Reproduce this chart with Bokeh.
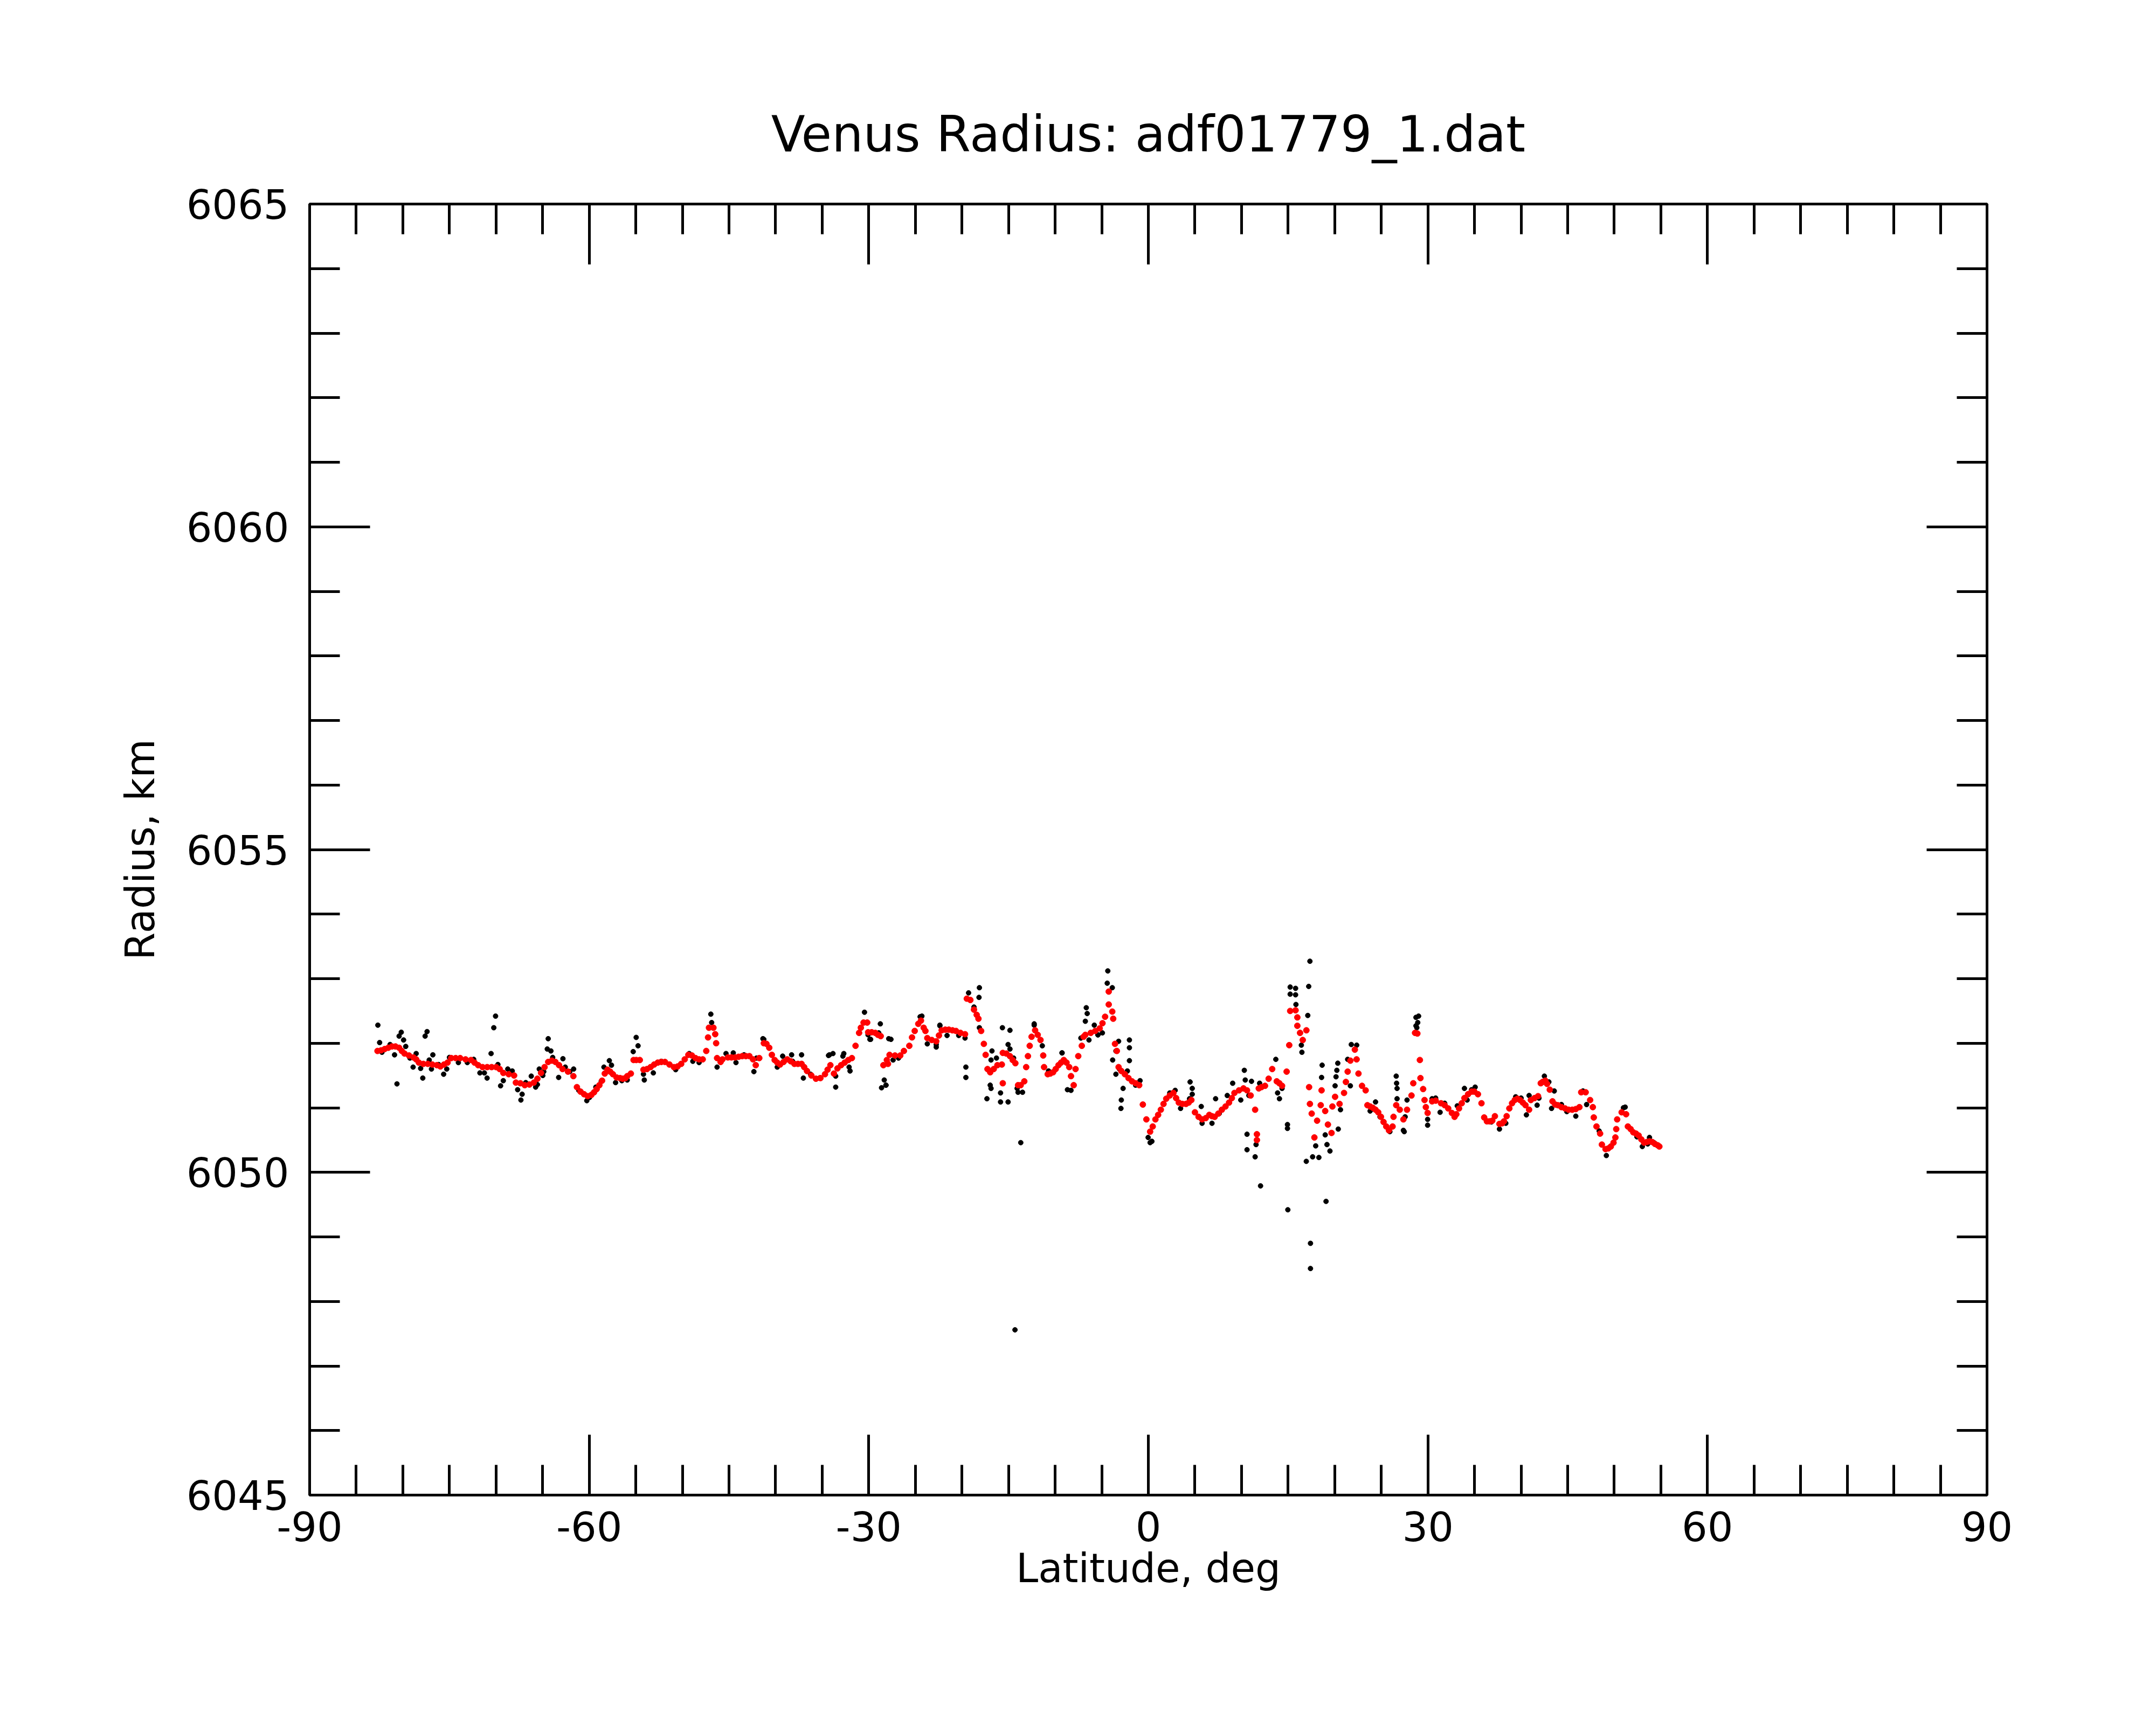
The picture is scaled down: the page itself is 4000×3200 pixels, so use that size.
from bokeh.plotting import figure
from bokeh.models import LinearAxis, FixedTicker, Range1d, PrintfTickFormatter
from bokeh.embed import file_html
from bokeh.resources import INLINE

# ---------------- data ----------------
# smoothed radius (red), first pass of readings
red_lat = [
    -82.72, -81.95, -81.17, -80.40, -79.82, -78.86, -78.28, -77.32, -76.35, -75.58,
    -74.81, -73.85, -72.69, -71.92, -70.95, -69.99, -69.22, -68.06, -67.87, -66.91,
    -65.94, -65.17, -64.40, -63.63, -62.86, -61.70, -61.32, -60.55, -59.77, -59.20,
    -58.62, -58.04, -57.46, -56.69, -56.11,
    -55.53, -55.24, -54.57, -54.18, -53.41, -52.64, -51.87, -50.91, -50.13, -49.36,
    -48.59, -47.82, -47.44, -47.25, -47.15, -46.67, -46.48, -46.38, -46.28, -45.90,
    -45.12, -44.35, -43.58, -42.81, -42.13, -41.75, -41.26, -40.68, -40.10, -39.52,
    -38.75, -37.98, -37.21, -36.63, -35.67, -34.70, -34.12, -33.74, -32.97, -32.20,
    -31.81, -31.42, -31.04, -30.56, -30.17, -30.07, -29.30, -28.72, -28.43, -27.94,
    -27.77, -26.62, -25.65, -25.07, -24.40, -23.92, -23.72, -22.76, -22.18, -21.41,
    -20.64, -19.67, -19.48, -19.10, -18.71, -18.23, -17.94, -17.65, -17.46, -17.26,
    -16.97, -16.20, -15.72, -15.62, -15.62, -14.85, -14.27, -13.98, -13.31, -13.11,
    -12.92, -12.53, -12.15, -11.57, -11.28, -11.19, -10.80, -10.22, -9.64, -9.07,
    -8.49, -8.30, -8.01, -7.81, -7.52, -7.14, -6.95, -6.18, -5.22, -4.64,
    -4.25, -4.25, -3.87, -3.77, -3.58, -3.38, -3.19, -2.52, -1.75, -0.98,
    -0.59, -0.21, 0.19,
    0.76, 1.34, 1.92, 2.69, 3.27, 4.04, 4.62, 5.00, 5.77, 6.54,
    7.12, 7.89, 8.66, 9.24, 10.21, 10.98, 11.46, 11.65, 11.65, 11.85,
    12.52, 13.29, 13.78, 14.35, 14.84, 15.12, 15.22, 15.80, 15.99, 15.99,
    16.28, 16.57, 16.96, 17.25, 17.34, 17.53, 17.82, 18.11, 18.50, 18.59,
    18.98, 19.27, 19.66, 19.75, 20.04, 20.52, 21.00, 21.20, 21.68, 22.16,
    22.35, 22.55, 22.93, 23.32, 23.51, 24.09, 24.67, 25.24, 25.82, 26.21,
    26.31, 26.60, 26.98, 27.37, 27.76, 28.24, 28.43, 28.62,
    28.87, 29.14, 29.20, 29.49, 29.64, 29.78, 29.97, 30.45, 31.41, 32.18,
    32.86, 33.34, 33.92, 34.69, 35.37, 35.75, 36.04, 36.62, 37.19, 37.68,
    38.16, 38.74, 39.32, 39.89, 40.47, 40.86, 41.05, 41.82, 42.11, 42.60,
    43.08, 43.37, 43.95, 44.72, 45.49, 46.26, 46.45, 46.93, 47.41, 47.70,
    47.80, 48.09, 48.48, 48.67, 49.06, 49.63, 50.12, 50.21, 50.31, 50.79,
    51.27, 51.46, 52.04, 52.62, 53.20, 53.78, 54.36, 54.84,
]
red_rad = [
    6051.88, 6051.91, 6051.95, 6051.93, 6051.84, 6051.78, 6051.70, 6051.68, 6051.66, 6051.67,
    6051.77, 6051.77, 6051.74, 6051.66, 6051.63, 6051.63, 6051.54, 6051.50, 6051.39, 6051.35,
    6051.39, 6051.54, 6051.71, 6051.71, 6051.60, 6051.49, 6051.32, 6051.21, 6051.20, 6051.29,
    6051.42, 6051.59, 6051.52, 6051.46, 6051.46,
    6051.53, 6051.74, 6051.74, 6051.59, 6051.63, 6051.70, 6051.71, 6051.63, 6051.68, 6051.82,
    6051.77, 6051.75, 6051.88, 6052.09, 6052.24, 6052.24, 6052.14, 6052.00, 6051.77, 6051.71,
    6051.78, 6051.78, 6051.80, 6051.80, 6051.66, 6051.77, 6052.00, 6051.93, 6051.74, 6051.67,
    6051.75, 6051.68, 6051.68, 6051.57, 6051.45, 6051.52, 6051.66, 6051.53, 6051.66, 6051.74,
    6051.77, 6051.96, 6052.16, 6052.32, 6052.32, 6052.17, 6052.16, 6052.11, 6051.66, 6051.68,
    6051.82, 6051.81, 6051.96, 6052.19, 6052.35, 6052.19, 6052.08, 6052.03, 6052.20, 6052.21,
    6052.19, 6052.14, 6052.69, 6052.67, 6052.52, 6052.38, 6052.19, 6051.99, 6051.82, 6051.60,
    6051.55, 6051.66, 6051.67, 6051.38, 6051.85, 6051.80, 6051.69, 6051.35, 6051.41, 6051.63,
    6051.80, 6052.10, 6052.20, 6052.05, 6051.81, 6051.63, 6051.52, 6051.55, 6051.66, 6051.74,
    6051.63, 6051.49, 6051.35, 6051.60, 6051.80, 6051.96, 6052.10, 6052.16, 6052.23, 6052.41,
    6052.60, 6052.80, 6052.49, 6052.38, 6051.99, 6051.88, 6051.63, 6051.52, 6051.41, 6051.35,
    6051.05, 6050.82, 6050.63,
    6050.82, 6050.97, 6051.14, 6051.23, 6051.08, 6051.06, 6051.12, 6050.93, 6050.82, 6050.89,
    6050.86, 6050.97, 6051.08, 6051.23, 6051.30, 6051.19, 6050.97, 6050.59, 6050.50, 6051.30,
    6051.34, 6051.60, 6051.41, 6051.34, 6051.56, 6051.97, 6052.50, 6052.51, 6052.40, 6052.27,
    6052.16, 6052.05, 6052.20, 6051.32, 6051.06, 6050.91, 6050.54, 6050.80, 6051.04, 6051.27,
    6050.95, 6050.74, 6050.61, 6051.02, 6051.17, 6051.06, 6051.23, 6051.40, 6051.73, 6051.90,
    6051.75, 6051.53, 6051.34, 6051.27, 6051.04, 6051.00, 6050.93, 6050.78, 6050.65, 6050.71,
    6050.86, 6051.04, 6050.97, 6050.82, 6050.97, 6051.19, 6051.38, 6052.16,
    6052.15, 6051.74, 6051.46, 6051.29, 6051.12, 6051.01, 6050.92, 6051.10, 6051.07, 6050.99,
    6050.86, 6050.99, 6051.15, 6051.25, 6051.21, 6051.07, 6050.85, 6050.79, 6050.87, 6050.75,
    6050.79, 6050.99, 6051.12, 6051.12, 6051.04, 6050.97, 6051.12, 6051.18, 6051.38, 6051.42,
    6051.28, 6051.10, 6051.04, 6050.99, 6050.97, 6051.01, 6051.24, 6051.24, 6051.12, 6051.01,
    6050.85, 6050.71, 6050.60, 6050.43, 6050.36, 6050.40, 6050.54, 6050.67, 6050.82, 6050.93,
    6050.90, 6050.71, 6050.62, 6050.57, 6050.46, 6050.48, 6050.44, 6050.40,
]
# smoothed radius (red), second pass of readings between the first ones
red_lat_b = [
    -82.33, -81.56, -80.79, -80.11, -79.34, -78.57, -77.80, -76.84, -75.97, -75.20,
    -74.33, -73.27, -72.31, -71.44, -70.47, -69.61, -68.64, -67.39, -66.42, -65.56,
    -64.79, -64.01, -63.24, -62.28, -60.93, -60.16, -59.48, -58.91, -58.33, -57.75,
    -57.07, -56.40,
    -55.92, -54.95, -53.80, -53.03, -52.26, -51.39, -50.52, -49.75, -48.98, -48.21,
    -45.70, -44.74, -43.97, -43.19, -42.42, -40.98, -40.40, -39.82, -39.14, -38.37,
    -37.60, -36.93, -36.16, -35.19, -34.42, -33.36, -32.59, -30.85, -29.69, -29.02,
    -28.06, -27.19, -26.23, -25.36, -24.69, -24.11, -23.24, -22.47, -21.79, -21.02,
    -20.16, -18.42, -16.59, -15.24, -14.56, -13.70, -12.73, -11.87, -10.52, -9.94,
    -9.36, -8.78, -6.76, -5.70, -4.92, -2.90, -2.13, -1.36,
    0.47, 1.05, 1.63, 2.30, 2.98, 3.65, 4.33, 5.39, 6.16, 6.83,
    7.51, 8.28, 8.96, 9.73, 10.59, 12.14, 12.91, 14.06, 21.39, 23.80,
    24.38, 24.96, 25.53,
    30.84, 31.80, 32.57, 33.05, 33.63, 34.31, 34.98, 36.33, 36.91, 37.97,
    38.45, 39.03, 39.61, 40.19, 41.44, 42.31, 42.79, 43.66, 44.33, 45.10,
    45.87, 49.35, 49.92, 51.76, 52.33, 52.91, 53.49, 54.07, 54.65,
]
red_rad_b = [
    6051.89, 6051.93, 6051.95, 6051.88, 6051.81, 6051.75, 6051.68, 6051.67, 6051.64, 6051.70,
    6051.77, 6051.75, 6051.70, 6051.63, 6051.63, 6051.60, 6051.52, 6051.38, 6051.36, 6051.45,
    6051.63, 6051.73, 6051.66, 6051.56, 6051.25, 6051.18, 6051.24, 6051.35, 6051.53, 6051.56,
    6051.47, 6051.45,
    6051.49, 6051.74, 6051.60, 6051.67, 6051.71, 6051.67, 6051.64, 6051.75, 6051.81, 6051.75,
    6051.75, 6051.78, 6051.79, 6051.80, 6051.75, 6051.99, 6051.82, 6051.70, 6051.71, 6051.72,
    6051.68, 6051.63, 6051.50, 6051.46, 6051.59, 6051.61, 6051.70, 6052.24, 6052.17, 6052.13,
    6051.74, 6051.81, 6051.88, 6052.09, 6052.30, 6052.24, 6052.05, 6052.12, 6052.21, 6052.20,
    6052.16, 6052.44, 6051.60, 6051.84, 6051.74, 6051.35, 6051.96, 6052.13, 6051.53, 6051.60,
    6051.70, 6051.70, 6052.13, 6052.19, 6052.31, 6051.57, 6051.46, 6051.38,
    6050.71, 6050.89, 6051.06, 6051.19, 6051.15, 6051.06, 6051.08, 6050.86, 6050.84, 6050.87,
    6050.91, 6051.02, 6051.15, 6051.27, 6051.27, 6051.32, 6051.45, 6051.38, 6051.56, 6051.02,
    6050.97, 6050.86, 6050.71,
    6051.11, 6051.04, 6050.92, 6050.90, 6051.07, 6051.21, 6051.25, 6050.79, 6050.80, 6050.76,
    6050.87, 6051.07, 6051.14, 6051.08, 6051.15, 6051.40, 6051.37, 6051.05, 6051.01, 6050.97,
    6050.98, 6050.37, 6050.46, 6050.67, 6050.60, 6050.51, 6050.47, 6050.47, 6050.42,
]

# individual radius measurements (black)
blk_lat = [
    -82.68, -82.49, -80.63, -80.40, -80.17, -79.92, -79.69, -80.89, -77.61, -77.40,
    -76.78, -77.17, -78.90, -77.86, -75.62, -70.05, -70.24, -70.53, -70.96, -71.73,
    -69.51, -69.22, -67.68, -67.33, -67.20, -64.40, -64.50, -64.11, -63.92, -62.82,
    -63.28, -61.67, -60.26, -58.42, -57.84, -57.61, -65.75, -65.36, -64.98, -66.22,
    -82.24, -81.37, -79.24, -78.57, -78.09, -76.93, -76.16, -75.29, -75.00, -74.04,
    -73.08, -72.40, -71.25, -69.80, -68.74, -68.26, -66.81, -65.56, -64.88, -62.57,
    -62.09, -61.12, -59.97, -59.29, -58.71, -57.17, -56.50,
    -54.96, -54.76, -55.28, -54.09, -55.92, -46.95, -46.86, -42.33, -41.36, -37.21,
    -37.02, -34.22, -33.55, -33.55, -32.68, -32.01, -30.46, -29.88, -28.76, -28.34,
    -28.63, -28.15, -27.86,
    -54.18, -53.12, -52.26, -50.72, -49.27, -48.88, -48.21, -46.28, -45.32, -44.54,
    -44.25, -43.39, -42.04, -41.26, -39.82, -39.24, -38.28, -38.18, -36.25, -35.29,
    -34.32, -33.84, -32.78, -32.11, -30.08, -29.80, -28.93,
    -27.62, -28.16, -24.30, -22.37, -22.76, -19.58, -19.58, -19.29, -18.13, -18.17,
    -17.32, -16.78, -16.88, -15.66, -14.85, -15.05, -15.86, -15.86, -15.05, -13.69,
    -13.98, -12.25, -9.26, -8.68, -6.66, -6.56, -6.76, -6.37, -5.41, -4.35,
    -4.41, -3.87, -3.19, -3.48, -2.03, -2.03, -3.83, -2.03, -3.48, -2.71,
    -2.90, -2.94, -2.25, -0.89, 0.19, -14.31,
    -27.39, -26.81, -24.49, -23.72, -22.76, -22.37, -21.60, -20.35, -19.67, -18.71,
    -18.13, -16.88, -16.30, -16.97, -14.85, -14.46, -14.08, -13.50, -12.25, -11.38,
    -10.71, -9.26, -8.30, -7.24, -5.80, -5.41, -4.93, -3.10, -1.37, -0.02,
    4.48, 4.71, 4.71, 5.68, 7.22, 10.30, 10.40, 11.07, 10.59, 10.59,
    11.46, 11.56, 12.04, 11.94, 13.68, 14.93, 14.93, 14.97, 15.22, 15.80,
    15.22, 15.80, 15.84, 17.34, 17.21, 17.11, 16.42, 16.48, 16.95, 17.63,
    18.30, 17.96, 18.65, 18.59, 19.07, 19.17, 19.49, 18.98, 20.33, 20.23,
    20.14, 20.04, 20.38, 20.62, 21.68, 21.78, 22.36, 24.38, 26.60, 26.64,
    26.69, 26.69, 27.46, 27.76, 28.72, 28.72, 17.40, 17.40,
    0.38, 2.30, 2.88, 3.46, 4.42, 5.77, 6.83, 7.61, 8.47, 9.05,
    9.92, 10.79, 13.87, 14.07, 14.35, 21.39, 23.80, 24.86, 25.92, 27.37,
    27.56,
    29.00, 28.91, 28.81, 29.97, 29.97, 31.31, 33.92, 35.07, 37.68, 40.57,
    41.72, 42.50, 43.56, 43.27, 45.87, 47.03, 49.15, 51.17, 53.01, 53.78,
    30.45, 30.83, 31.80, 33.15, 34.21, 34.69, 36.43, 36.81, 38.36, 39.42,
    40.00, 40.86, 41.92, 42.98, 44.33, 44.91, 46.64, 48.38, 50.98, 52.43,
    53.59, 54.26,
]
blk_rad = [
    6052.28, 6052.01, 6051.37, 6052.11, 6052.17, 6052.05, 6051.95, 6051.82, 6052.11, 6052.18,
    6051.82, 6051.74, 6051.63, 6051.46, 6051.52, 6052.42, 6052.24, 6051.84, 6051.46, 6051.54,
    6051.34, 6051.42, 6051.28, 6051.12, 6051.21, 6052.07, 6051.91, 6051.88, 6051.78, 6051.76,
    6051.47, 6051.60, 6051.11, 6051.63, 6051.73, 6051.66, 6051.32, 6051.60, 6051.50, 6051.49,
    6051.86, 6051.98, 6051.77, 6051.84, 6051.61, 6051.60, 6051.67, 6051.60, 6051.78, 6051.70,
    6051.70, 6051.75, 6051.54, 6051.67, 6051.60, 6051.57, 6051.39, 6051.36, 6051.56, 6051.63,
    6051.56, 6051.27, 6051.16, 6051.32, 6051.41, 6051.39, 6051.42,
    6052.09, 6051.96, 6051.87, 6051.43, 6051.43, 6052.45, 6052.32, 6051.56, 6052.07, 6051.82,
    6051.46, 6051.82, 6051.32, 6051.49, 6051.84, 6051.57, 6052.48, 6052.06, 6052.30, 6051.43,
    6051.31, 6051.35, 6052.07,
    6051.52, 6051.54, 6051.72, 6051.59, 6051.84, 6051.72, 6051.70, 6051.63, 6051.84, 6051.85,
    6051.70, 6051.82, 6051.77, 6052.06, 6051.63, 6051.80, 6051.82, 6051.72, 6051.52, 6051.46,
    6051.81, 6051.84, 6051.80, 6051.63, 6052.13, 6052.06, 6052.16,
    6052.06, 6051.35, 6052.42, 6052.27, 6051.94, 6051.63, 6051.47, 6052.78, 6052.86, 6052.71,
    6051.14, 6051.88, 6051.30, 6052.24, 6052.20, 6051.98, 6051.23, 6051.09, 6051.09, 6050.46,
    6051.24, 6052.30, 6051.85, 6051.28, 6052.55, 6052.46, 6052.34, 6052.05, 6052.13, 6053.12,
    6052.93, 6052.86, 6052.03, 6051.88, 6052.05, 6051.93, 6051.74, 6051.73, 6051.52, 6051.30,
    6051.12, 6050.99, 6051.57, 6051.42, 6050.46, 6047.56,
    6051.74, 6051.77, 6052.41, 6051.99, 6051.98, 6052.28, 6052.12, 6052.12, 6052.08, 6052.56,
    6052.24, 6051.74, 6051.77, 6051.35, 6051.91, 6051.77, 6051.30, 6051.24, 6052.28, 6051.96,
    6051.57, 6051.85, 6051.27, 6052.08, 6052.28, 6052.13, 6052.16, 6051.60, 6051.35, 6050.54,
    6051.40, 6051.30, 6051.21, 6051.02, 6051.14, 6051.58, 6051.43, 6051.41, 6050.59, 6050.35,
    6050.24, 6050.43, 6049.79, 6051.38, 6051.75, 6050.74, 6050.68, 6049.42, 6052.87, 6052.85,
    6052.76, 6052.75, 6052.60, 6053.27, 6052.88, 6052.43, 6051.97, 6051.86, 6050.17, 6050.24,
    6050.23, 6050.41, 6051.66, 6051.47, 6049.55, 6050.43, 6050.33, 6050.58, 6051.69, 6051.58,
    6051.48, 6051.34, 6050.67, 6050.97, 6051.34, 6051.98, 6051.97, 6051.09, 6051.49, 6051.38,
    6051.30, 6051.14, 6050.63, 6051.12, 6052.40, 6052.27, 6048.90, 6048.51,
    6050.48, 6051.23, 6051.27, 6050.99, 6051.14, 6050.76, 6050.76, 6050.91, 6051.19, 6051.38,
    6051.12, 6051.19, 6051.23, 6051.14, 6051.30, 6051.75, 6050.95, 6050.86, 6050.63, 6050.65,
    6050.86,
    6052.42, 6052.32, 6052.24, 6050.82, 6050.73, 6050.93, 6051.30, 6051.32, 6050.67, 6050.89,
    6051.04, 6051.49, 6051.26, 6050.99, 6050.87, 6051.05, 6050.26, 6051.01, 6050.40, 6050.54,
    6051.14, 6051.15, 6051.07, 6051.03, 6051.12, 6051.28, 6050.79, 6050.78, 6050.76, 6051.17,
    6051.15, 6051.19, 6051.15, 6051.40, 6051.05, 6050.94, 6051.26, 6050.64, 6051.00, 6050.55,
    6050.44, 6050.46,
]

x_major = [-90, -60, -30, 0, 30, 60, 90]
x_minor = [v for v in range(-90, 91, 5)]
y_major = [6045, 6050, 6055, 6060, 6065]
y_minor = [v for v in range(6045, 6066, 1)]

title_text = "Venus Radius: adf01779_1.dat"
x_label = "Latitude, deg"
y_label = "Radius, km"

# ---------------- figure ----------------
FONT = "DejaVu Sans"
LW = 5

p = figure(width=3984, height=3184,
           x_range=Range1d(-90, 90), y_range=Range1d(6045, 6065),
           x_axis_location=None, y_axis_location=None,
           output_backend="svg", toolbar_location=None,
           min_border_left=574, min_border_right=298,
           min_border_top=378, min_border_bottom=411)
p.grid.visible = False
p.outline_line_color = "black"
p.outline_line_width = LW
p.background_fill_color = "white"
p.border_fill_color = "white"

p.title.text = title_text
p.title.align = "center"
p.title.text_font = FONT
p.title.text_font_size = "92px"
p.title.text_font_style = "normal"
p.title.text_color = "black"
p.title.standoff = 152


def make_axis(ticks, minor, labels):
    ax = LinearAxis(ticker=FixedTicker(ticks=ticks, minor_ticks=minor),
                    formatter=PrintfTickFormatter(format="%d"))
    ax.axis_line_width = LW
    ax.axis_line_color = "black"
    ax.major_tick_in = 112
    ax.major_tick_out = 0
    ax.minor_tick_in = 56
    ax.minor_tick_out = 0
    ax.major_tick_line_width = LW
    ax.minor_tick_line_width = LW
    ax.major_tick_line_color = "black"
    ax.minor_tick_line_color = "black"
    if labels:
        ax.major_label_text_font = FONT
        ax.major_label_text_font_size = "75px"
        ax.major_label_text_color = "black"
        ax.axis_label_text_font = FONT
        ax.axis_label_text_font_size = "74px"
        ax.axis_label_text_font_style = "normal"
        ax.axis_label_text_color = "black"
    else:
        ax.major_label_text_color = None
        ax.major_label_text_font_size = "1px"
        ax.major_label_standoff = 0
    return ax


bottom = make_axis(x_major, x_minor, True)
left = make_axis(y_major, y_minor, True)
top = make_axis(x_major, x_minor, False)
right = make_axis(y_major, y_minor, False)

bottom.axis_label = x_label
bottom.major_label_standoff = 30
bottom.axis_label_standoff = 4
left.axis_label = y_label
left.major_label_standoff = 38
left.axis_label_standoff = 40

p.add_layout(bottom, "below")
p.add_layout(left, "left")
p.add_layout(top, "above")
p.add_layout(right, "right")

p.scatter(blk_lat, blk_rad, marker="circle", size=9, fill_color="black", line_color="black")
p.scatter(red_lat + red_lat_b, red_rad + red_rad_b, marker="circle", size=11,
          fill_color="red", line_color="red")

open("out.html", "w").write(file_html(p, INLINE))
